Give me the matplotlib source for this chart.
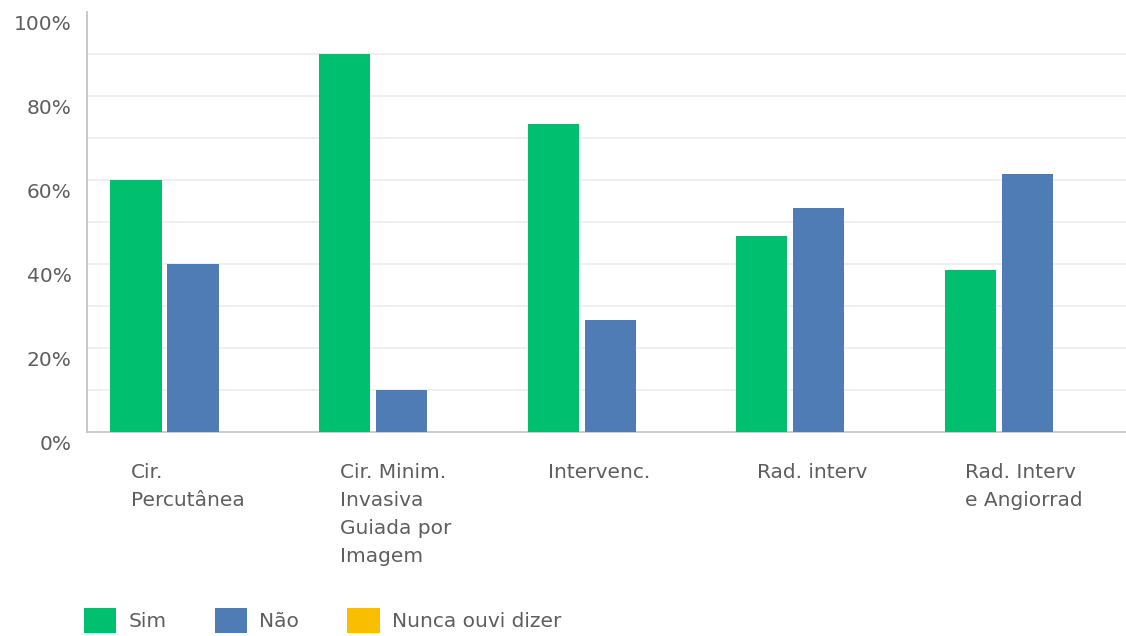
"""Grouped bar chart: Sim / Não / Nunca ouvi dizer per term."""

import matplotlib
matplotlib.use("Agg")
import matplotlib.pyplot as plt
import matplotlib.transforms as mtransforms
import numpy as np

categories = [
    "Cir.\nPercutânea",
    "Cir. Minim.\nInvasiva\nGuiada por\nImagem",
    "Intervenc.",
    "Rad. interv",
    "Rad. Interv\ne Angiorrad",
]
series_names = ["Sim", "Não", "Nunca ouvi dizer"]
sim = [60.0, 90.0, 73.3, 46.7, 38.5]
nao = [40.0, 10.0, 26.7, 53.3, 61.5]
nunca = [0.0, 0.0, 0.0, 0.0, 0.0]
yticks = [0, 20, 40, 60, 80, 100]

COLORS = ["#00bf6f", "#507cb6", "#f9be00"]
TEXT = "#5e5e5e"

plt.rcParams["font.family"] = ["DejaVu Sans"]

fig = plt.figure(figsize=(11.26, 6.36), dpi=100)
ax = fig.add_axes([87 / 1126, 1 - 432 / 636, (1130 - 87) / 1126, 420 / 636])

x = np.arange(len(categories))
width = 0.245
step = 0.273
for i, (vals, name) in enumerate(zip([sim, nao, nunca], series_names)):
    ax.bar(x + (i - 1) * step, vals, width=width, color=COLORS[i], label=name, zorder=3)

ax.set_xlim(-0.508, len(categories) - 0.508)
ax.set_ylim(0, 100)
ax.set_yticks(yticks)
ax.set_yticklabels([f"{v}%" for v in yticks])
ax.tick_params(axis="y", length=0, pad=11, labelsize=14.5, labelcolor=TEXT)

# light gridlines every 10%, none on the top edge
for v in range(10, 100, 10):
    ax.axhline(v, color="#ececec", lw=1.2, zorder=0)

# y labels sit a little below their gridlines
for lab in ax.get_yticklabels():
    lab.set_transform(lab.get_transform() + mtransforms.ScaledTranslation(0, -10 / 100, fig.dpi_scale_trans))

ax.set_xticks(x)
ax.set_xticklabels(categories, ha="left", va="top", linespacing=1.62)
ax.tick_params(axis="x", length=0, pad=22, labelsize=14.5, labelcolor=TEXT)
for lab in ax.get_xticklabels():
    lab.set_transform(lab.get_transform() + mtransforms.ScaledTranslation(-62 / 100, 0, fig.dpi_scale_trans))

for side in ["top", "right"]:
    ax.spines[side].set_visible(False)
ax.spines["left"].set_color("#c4c4c4")
ax.spines["bottom"].set_color("#c8c8c8")
ax.spines["left"].set_linewidth(1.3)
ax.spines["bottom"].set_linewidth(1.3)

fig.legend(
    loc="upper left",
    bbox_to_anchor=(76 / 1126, 1 - 600 / 636),
    ncol=3,
    frameon=False,
    fontsize=14.5,
    labelcolor=TEXT,
    handlelength=1.6,
    handleheight=1.5,
    handletextpad=0.6,
    columnspacing=2.4,
    borderaxespad=0,
)

fig.savefig("out.png", dpi=100)
